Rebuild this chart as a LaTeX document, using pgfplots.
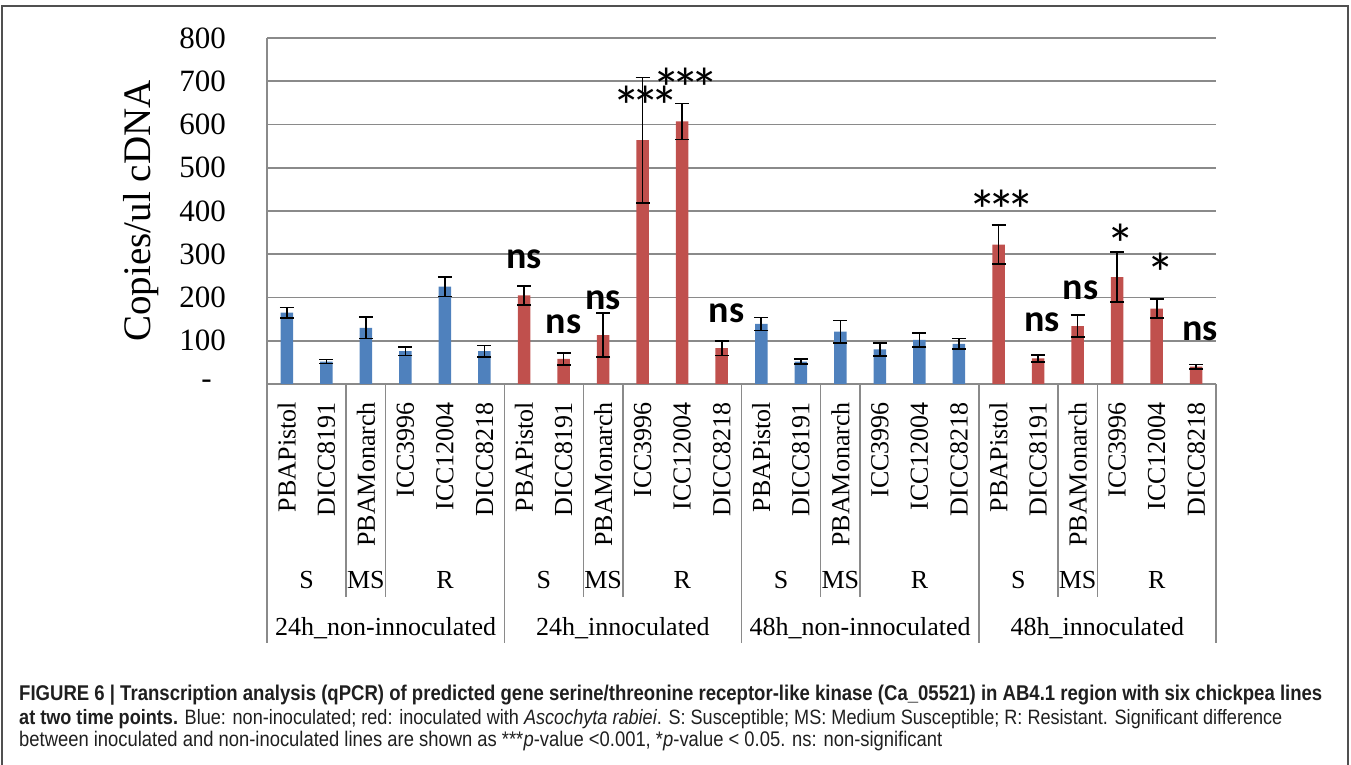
\documentclass[border=0pt]{standalone}
\usepackage{fontspec}
\setmainfont{Liberation Serif}
\newfontfamily\calibri{Carlito}
\newfontfamily\helv[FakeStretch=0.87]{Liberation Sans}
\usepackage{graphicx}
\usepackage{pgfplots}
\usepackage{pgfplotstable}
\pgfplotsset{compat=1.18}
\definecolor{xlblue}{HTML}{4F81BD}
\definecolor{xlred}{HTML}{C0504D}
\definecolor{gridgray}{HTML}{8A8A8A}
\definecolor{framegray}{HTML}{505050}

\pgfplotstableread{
x y e
0 165 12
1 52 5
2 130 25
3 76 10
4 225 23
5 76 13
12 139 15
13 52 6
14 121 26
15 80 15
16 102 16
17 93 12
}\bluedata
\pgfplotstableread{
x y e
6 205 22
7 58 14
8 113 51
9 564 145
10 607 42
11 83 17
18 322 45
19 59 8
20 134 26
21 247 58
22 174 22
23 40 5
}\reddata

\newcommand{\sig}{\calibri\bfseries\fontsize{38}{40}\selectfont}
\newcommand{\bigast}{\makebox[19pt]{\mdseries\scalebox{1.5}{*}}}
\newcommand{\lab}{\fontsize{26}{28}\selectfont}

\begin{document}
\begin{tikzpicture}
\useasboundingbox (0pt,0pt) rectangle (1351pt,765pt);
\draw[framegray, line width=1.5pt] (2pt,-3pt) -- (2pt,759pt) -- (1348pt,759pt) -- (1348pt,-3pt);
\begin{axis}[
  at={(267pt,381pt)}, anchor=south west,
  scale only axis, width=949pt, height=346pt,
  xmin=-0.5, xmax=23.5, ymin=0, ymax=800,
  clip=false,
  axis x line*=bottom, axis y line*=left,
  axis line style={gridgray, line width=1.8pt, -},
  ymajorgrids, grid style={gridgray, line width=1.8pt},
  major tick length=0pt,
  ytick={0,100,...,800},
  yticklabels={{-\hspace*{14pt}},100,200,300,400,500,600,700,800},
  yticklabel style={anchor=east, inner sep=0pt, font=\fontsize{31}{33}\selectfont},
  yticklabel shift=41pt,
  xtick={0,...,23},
  xticklabels={PBAPistol,DICC8191,PBAMonarch,ICC3996,ICC12004,DICC8218,
               PBAPistol,DICC8191,PBAMonarch,ICC3996,ICC12004,DICC8218,
               PBAPistol,DICC8191,PBAMonarch,ICC3996,ICC12004,DICC8218,
               PBAPistol,DICC8191,PBAMonarch,ICC3996,ICC12004,DICC8218},
  xticklabel style={rotate=90, anchor=east, inner sep=0pt, font=\lab},
  xticklabel shift=18pt,
  ylabel={Copies/ul cDNA},
  every axis y label/.style={at={(axis description cs:-0.1326,0.5)}, rotate=90, anchor=center, font=\fontsize{39}{41}\selectfont},
]
\addplot[ybar, bar width=12.5pt, bar shift=0pt, fill=xlblue, draw=none,
  error bars/.cd, y dir=both, y explicit,
  error bar style={black, line width=1.6pt},
  error mark options={rotate=90, mark size=7pt, line width=1.6pt, black}]
  table[x=x, y=y, y error=e] {\bluedata};
\addplot[ybar, bar width=12.5pt, bar shift=0pt, fill=xlred, draw=none,
  error bars/.cd, y dir=both, y explicit,
  error bar style={black, line width=1.6pt},
  error mark options={rotate=90, mark size=7pt, line width=1.6pt, black}]
  table[x=x, y=y, y error=e] {\reddata};

% significance labels
\node[font=\sig, inner sep=0pt] at (axis cs:6,288) {ns};
\node[font=\sig, inner sep=0pt] at (axis cs:7,139) {ns};
\node[font=\sig, inner sep=0pt] at (axis cs:8,193) {ns};
\node[font=\sig, inner sep=0pt] at (axis cs:9.07,642) {\bigast\bigast\bigast};
\node[font=\sig, inner sep=0pt] at (axis cs:10.09,683) {\bigast\bigast\bigast};
\node[font=\sig, inner sep=0pt] at (axis cs:11.12,164) {ns};
\node[font=\sig, inner sep=0pt] at (axis cs:18.07,402) {\bigast\bigast\bigast};
\node[font=\sig, inner sep=0pt] at (axis cs:19.1,143) {ns};
\node[font=\sig, inner sep=0pt] at (axis cs:20.07,216) {ns};
\node[font=\sig, inner sep=0pt] at (axis cs:21.08,324) {\bigast};
\node[font=\sig, inner sep=0pt] at (axis cs:22.09,255) {\bigast};
\node[font=\sig, inner sep=0pt] at (axis cs:23.09,123) {ns};

% category separators (short)
\draw[gridgray, line width=1.5pt] (axis cs:1.5,0) -- ++(0pt,-213pt);
\draw[gridgray, line width=1.5pt] (axis cs:2.5,0) -- ++(0pt,-213pt);
\draw[gridgray, line width=1.5pt] (axis cs:7.5,0) -- ++(0pt,-213pt);
\draw[gridgray, line width=1.5pt] (axis cs:8.5,0) -- ++(0pt,-213pt);
\draw[gridgray, line width=1.5pt] (axis cs:13.5,0) -- ++(0pt,-213pt);
\draw[gridgray, line width=1.5pt] (axis cs:14.5,0) -- ++(0pt,-213pt);
\draw[gridgray, line width=1.5pt] (axis cs:19.5,0) -- ++(0pt,-213pt);
\draw[gridgray, line width=1.5pt] (axis cs:20.5,0) -- ++(0pt,-213pt);
% group separators (long)
\draw[gridgray, line width=1.5pt] (axis cs:-0.5,0) -- ++(0pt,-259pt);
\draw[gridgray, line width=1.5pt] (axis cs:5.5,0) -- ++(0pt,-259pt);
\draw[gridgray, line width=1.5pt] (axis cs:11.5,0) -- ++(0pt,-259pt);
\draw[gridgray, line width=1.5pt] (axis cs:17.5,0) -- ++(0pt,-259pt);
\draw[gridgray, line width=1.5pt] (axis cs:23.5,0) -- ++(0pt,-259pt);
% level-1 labels
\node[font=\lab] at ([yshift=-196pt]axis cs:0.5,0) {S};
\node[font=\lab] at ([yshift=-196pt]axis cs:2,0) {MS};
\node[font=\lab] at ([yshift=-196pt]axis cs:4,0) {R};
\node[font=\lab] at ([yshift=-196pt]axis cs:6.5,0) {S};
\node[font=\lab] at ([yshift=-196pt]axis cs:8,0) {MS};
\node[font=\lab] at ([yshift=-196pt]axis cs:10,0) {R};
\node[font=\lab] at ([yshift=-196pt]axis cs:12.5,0) {S};
\node[font=\lab] at ([yshift=-196pt]axis cs:14,0) {MS};
\node[font=\lab] at ([yshift=-196pt]axis cs:16,0) {R};
\node[font=\lab] at ([yshift=-196pt]axis cs:18.5,0) {S};
\node[font=\lab] at ([yshift=-196pt]axis cs:20,0) {MS};
\node[font=\lab] at ([yshift=-196pt]axis cs:22,0) {R};
% level-2 labels
\node[font=\lab] at ([yshift=-244pt]axis cs:2.5,0) {24h\_non-innoculated};
\node[font=\lab] at ([yshift=-244pt]axis cs:8.5,0) {24h\_innoculated};
\node[font=\lab] at ([yshift=-244pt]axis cs:14.5,0) {48h\_non-innoculated};
\node[font=\lab] at ([yshift=-244pt]axis cs:20.5,0) {48h\_innoculated};
\end{axis}

% caption
\begin{scope}[every node/.style={anchor=base west, inner sep=0pt, text=black!88}]
\node at (19pt,64pt) {\resizebox{1303pt}{!}{\helv\fontsize{17.7}{20}\selectfont\bfseries FIGURE 6 | Transcription analysis (qPCR) of predicted gene serine/threonine receptor-like kinase (Ca\_05521) in AB4.1 region with six chickpea lines}};
\node at (19pt,40.7pt) {\resizebox{1263pt}{!}{\helv\fontsize{17.7}{20}\selectfont\textbf{at two time points.} Blue: non-inoculated; red: inoculated with \textit{Ascochyta rabiei}. S: Susceptible; MS: Medium Susceptible; R: Resistant. Significant difference}};
\node at (19pt,18.3pt) {\resizebox{923pt}{!}{\helv\fontsize{17.7}{20}\selectfont between inoculated and non-inoculated lines are shown as ***\textit{p}-value <0.001, *\textit{p}-value < 0.05. ns: non-significant}};
\end{scope}
\end{tikzpicture}
\end{document}
